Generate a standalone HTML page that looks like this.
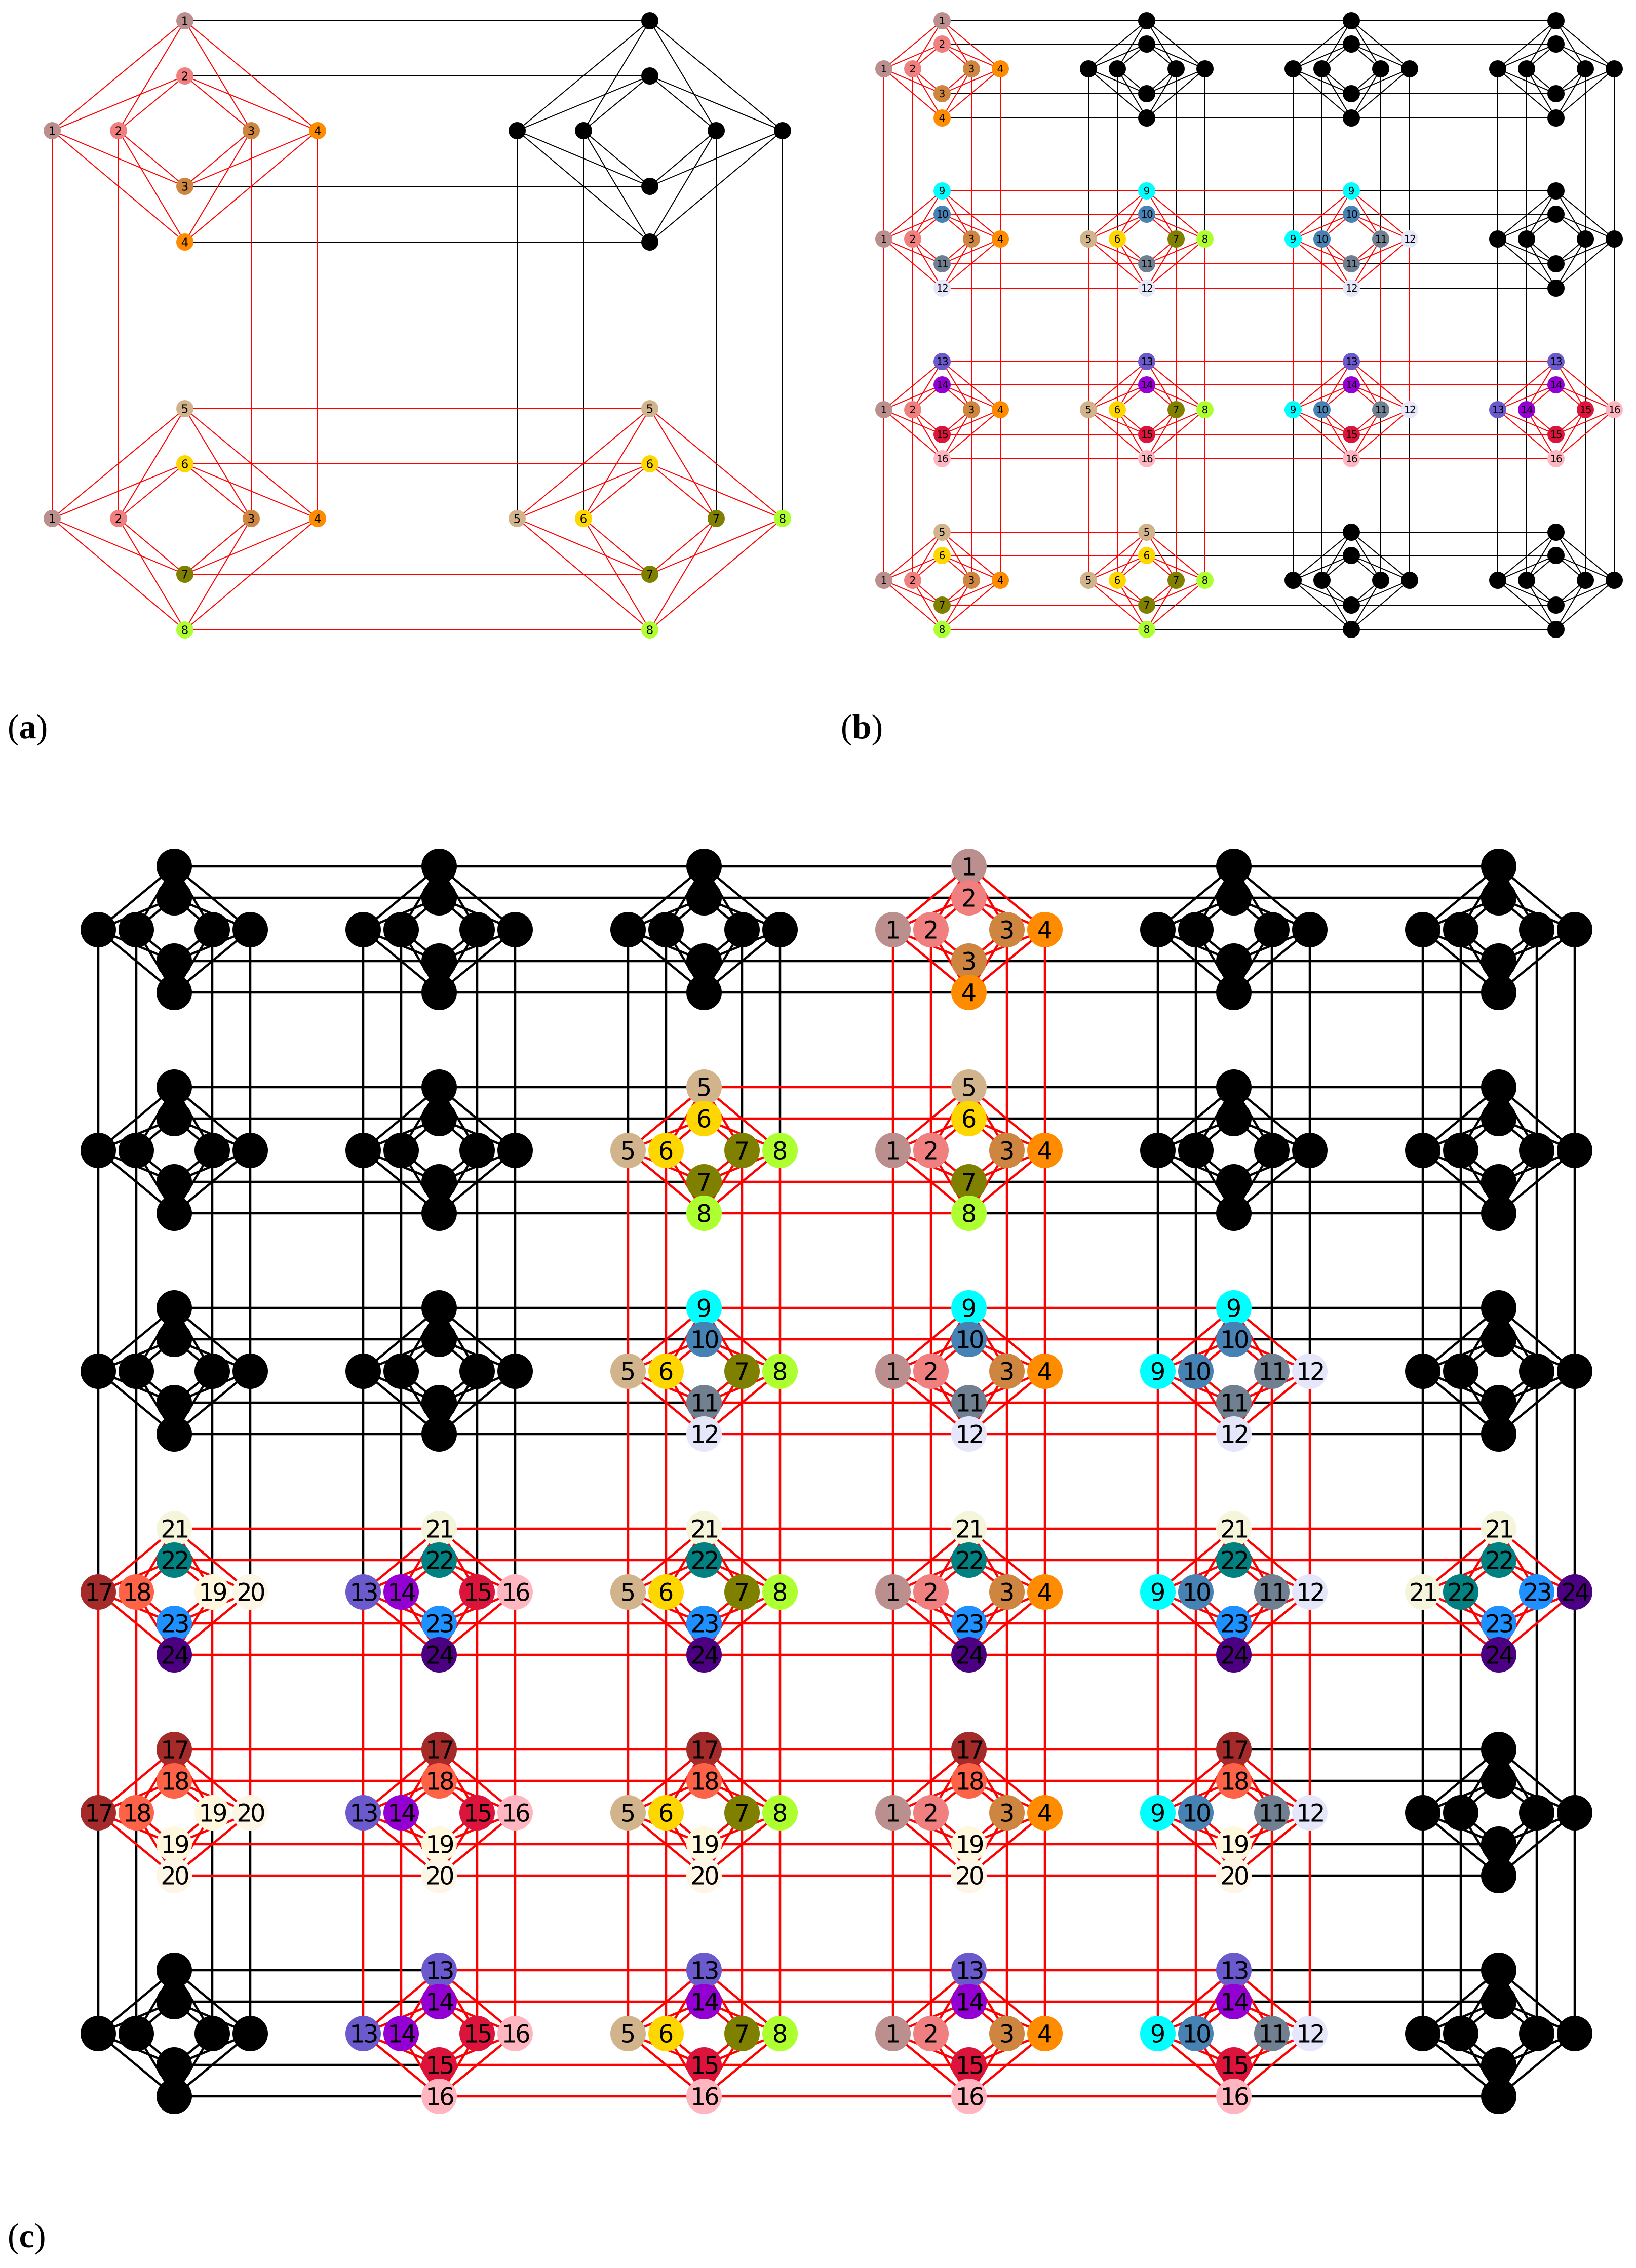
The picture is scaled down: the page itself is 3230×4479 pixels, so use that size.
<!DOCTYPE html>
<html><head><meta charset="utf-8">
<style>
html,body{margin:0;padding:0;background:#fff;}
svg{display:block;}
</style></head>
<body>
<svg id="s" xmlns="http://www.w3.org/2000/svg" width="3230" height="4479" viewBox="0 0 3230 4479">
<rect width="3230" height="4479" fill="#fff"/>
<g id="L"></g>
<g id="N"></g>
<text x="15" y="1458" font-family="Liberation Serif, serif" font-size="68">(<tspan font-weight="bold">a</tspan>)</text>
<text x="1660" y="1458" font-family="Liberation Serif, serif" font-size="68">(<tspan font-weight="bold">b</tspan>)</text>
<text x="15" y="4438" font-family="Liberation Serif, serif" font-size="68">(<tspan font-weight="bold">c</tspan>)</text>
</svg>
<script>
var G = [null,
 ["1","2","3","4"],
 ["5","6","7","8"],
 ["9","10","11","12"],
 ["13","14","15","16"],
 ["17","18","19","20"],
 ["21","22","23","24"]];
var C = {"1":"#bc8f8f","2":"#f08080","3":"#cd853f","4":"#ff8c00","5":"#d2b48c","6":"#ffd700","7":"#808000","8":"#adff2f",
"9":"#00ffff","10":"#4682b4","11":"#708090","12":"#e6e6fa","13":"#6a5acd","14":"#9400d3","15":"#dc143c","16":"#ffb6c1",
"17":"#a52a2a","18":"#ff6347","19":"#fff8dc","20":"#fdf5e6","21":"#f5f5dc","22":"#008080","23":"#1e90ff","24":"#4b0082"};
var NS="http://www.w3.org/2000/svg";
var Lg=document.getElementById("L"), Ng=document.getElementById("N");
var blackL=[], redL=[];
function line(a,b,c,d,red,lw){ (red?redL:blackL).push([a,b,c,d,lw]); }
function panel(cx,cy,rowG,colG,dv,dh,r,fs,lw){
  var lab=function(i,j){return colG[j]<=rowG[i];};
  for(var i=0;i<cy.length;i++)for(var j=0;j<cx.length;j++){
    var L=lab(i,j);
    for(var k=0;k<4;k++)for(var m=0;m<4;m++)
      line(cx[j],cy[i]+dv[k],cx[j]+dh[m],cy[i],L,lw);
    if(j+1<cx.length){var L2=L&&lab(i,j+1);
      for(var k=0;k<4;k++) line(cx[j],cy[i]+dv[k],cx[j+1],cy[i]+dv[k],L2,lw);}
    if(i+1<cy.length){var L3=L&&lab(i+1,j);
      for(var m=0;m<4;m++) line(cx[j]+dh[m],cy[i],cx[j]+dh[m],cy[i+1],L3,lw);}
  }
  for(var i=0;i<cy.length;i++)for(var j=0;j<cx.length;j++){
    var L=lab(i,j);
    for(var k=0;k<4;k++){
      node(cx[j],cy[i]+dv[k],r,L?G[rowG[i]][k]:null,fs);
      node(cx[j]+dh[k],cy[i],r,L?G[colG[j]][k]:null,fs);
    }
  }
}
var nodes=[];
function node(x,y,r,t,fs){nodes.push([x,y,r,t,fs]);}
panel([365,1283],[258,1024],[1,2],[1,2],[-217,-108,110,220],[-262,-131,131,262],17,23,2);
panel([1860,2264,2668,3072],[136,472,809,1146],[1,3,4,2],[1,2,3,4],[-95,-49,49,97],[-115,-58,58,115],17,20,2);
panel([344,867,1390,1913,2436,2959],[1836,2272,2708,3144,3580,4016],[1,2,3,6,5,4],[5,4,2,1,3,6],[-125,-63,62,124],[-150,-75,75,150],35,48,4.5);
function drawL(arr,col){
  arr.forEach(function(a){var e=document.createElementNS(NS,"line");
    e.setAttribute("x1",a[0]);e.setAttribute("y1",a[1]);e.setAttribute("x2",a[2]);e.setAttribute("y2",a[3]);
    e.setAttribute("stroke",col);e.setAttribute("stroke-width",a[4]);Lg.appendChild(e);});
}
drawL(blackL,"#000");drawL(redL,"#ff0000");
nodes.forEach(function(n){
  var c=document.createElementNS(NS,"circle");
  c.setAttribute("cx",n[0]);c.setAttribute("cy",n[1]);c.setAttribute("r",n[2]);
  c.setAttribute("fill",n[3]?C[n[3]]:"#000");Ng.appendChild(c);
  if(n[3]){var t=document.createElementNS(NS,"text");
    t.setAttribute("x",n[0]);t.setAttribute("y",n[1]+n[4]*0.36);
    t.setAttribute("text-anchor","middle");t.setAttribute("font-size",n[4]);
    t.setAttribute("font-family","DejaVu Sans, Liberation Sans, sans-serif");
    if(n[3].length>1)t.setAttribute("letter-spacing",-n[4]*0.08);
    t.textContent=n[3];Ng.appendChild(t);}
});
</script>
</body></html>
